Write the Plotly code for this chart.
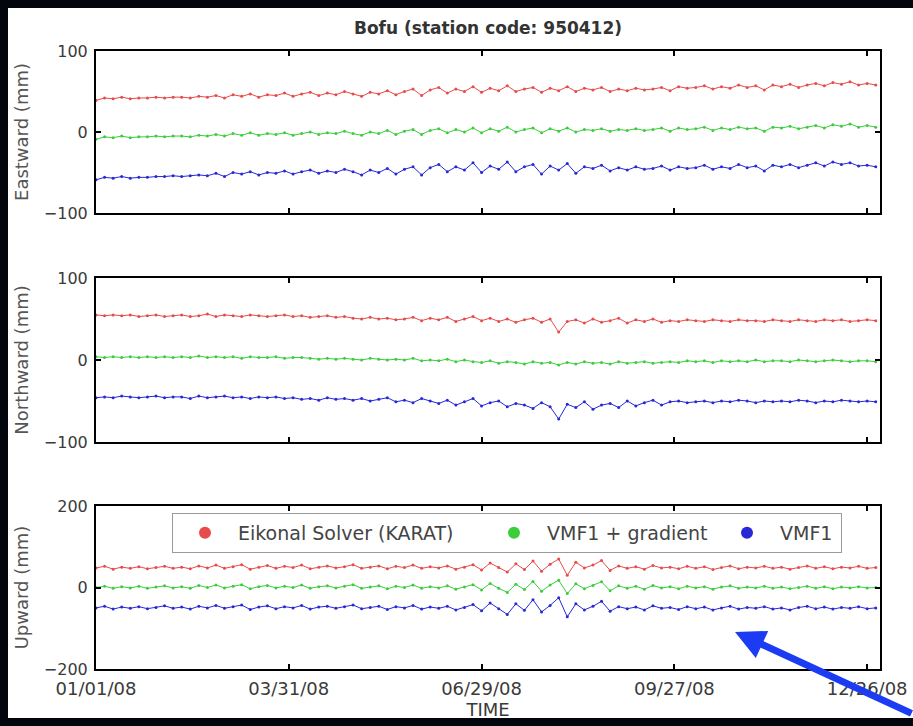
import pandas as pd
import plotly.graph_objects as go

# ---------------- data (sampled every 4 days) ----------------
dates = pd.date_range("2008-01-01", periods=92, freq="4D")

east_karat = [39, 42, 41, 43, 41, 42, 42, 43, 42, 43,
              43, 42, 44, 43, 45, 42, 46, 44, 47, 43,
              46, 45, 48, 44, 47, 49, 45, 48, 46, 50,
              47, 44, 49, 47, 51, 46, 50, 53, 45, 52,
              55, 48, 53, 50, 56, 49, 54, 51, 57, 50,
              53, 55, 49, 54, 51, 56, 50, 54, 52, 55,
              50, 53, 51, 54, 52, 53, 55, 51, 56, 54,
              55, 57, 53, 56, 54, 58, 55, 57, 52, 58,
              56, 59, 55, 58, 60, 57, 61, 59, 62, 58,
              60, 58]
east_grad = [-9, -6, -7, -5, -7, -6, -6, -5, -6, -5,
             -5, -6, -4, -5, -3, -5, -2, -4, -1, -4,
             -2, -3, -1, -4, -2, 0, -3, -1, -2, 1,
             -2, -4, 0, -2, 2, -3, 1, 3, -3, 2,
             4, -1, 3, 0, 5, -1, 4, 1, 6, 0,
             3, 5, -1, 4, 1, 5, 0, 3, 2, 4,
             1, 3, 2, 4, 2, 3, 5, 1, 5, 3,
             4, 6, 2, 5, 3, 6, 4, 5, 1, 6,
             5, 7, 4, 6, 8, 5, 9, 7, 10, 6,
             8, 6]
east_vmf1 = [-59, -56, -57, -55, -57, -56, -56, -55, -55, -54,
             -55, -54, -53, -54, -51, -55, -50, -52, -49, -53,
             -50, -51, -48, -52, -49, -47, -51, -48, -50, -46,
             -49, -53, -47, -50, -45, -52, -46, -43, -53, -44,
             -40, -49, -43, -47, -38, -50, -42, -46, -37, -49,
             -43, -40, -52, -42, -47, -39, -51, -43, -45, -41,
             -48, -44, -47, -43, -46, -45, -42, -47, -43, -45,
             -44, -41, -46, -43, -45, -40, -44, -42, -48, -41,
             -43, -40, -44, -41, -38, -42, -37, -40, -38, -42,
             -41, -43]

north_karat = [55, 54, 55, 54, 55, 53, 54, 55, 53, 54,
               55, 53, 54, 56, 53, 55, 54, 53, 55, 54,
               53, 54, 55, 53, 54, 52, 53, 54, 52, 53,
               51, 50, 52, 50, 51, 49, 50, 52, 48, 51,
               49, 52, 47, 50, 53, 48, 51, 47, 50, 46,
               49, 51, 46, 50, 34, 47, 49, 45, 50, 46,
               48, 51, 45, 49, 47, 50, 46, 48, 47, 49,
               48, 47, 49, 48, 47, 49, 48, 48, 47, 49,
               48, 47, 49, 48, 47, 49, 48, 49, 47, 48,
               49, 48]
north_grad = [4, 3, 4, 3, 4, 3, 4, 3, 4, 3,
              4, 3, 5, 3, 4, 3, 4, 2, 4, 3,
              3, 4, 2, 3, 3, 2, 1, 2, 1, 2,
              1, 0, 2, 1, 0, 1, 0, 2, -1, 0,
              -1, 1, -2, 0, -2, -3, -1, -4, -2, -3,
              -5, -2, -4, -3, -6, -3, -5, -2, -4, -3,
              -5, -2, -4, -3, -2, -4, -3, -2, -3, -1,
              -2, -1, -3, -1, -2, -1, -2, 0, -2, -1,
              -1, -2, 0, -1, -2, -1, 0, -1, -2, -1,
              -1, -2]
north_vmf1 = [-46, -45, -46, -44, -45, -46, -45, -44, -46, -45,
              -45, -47, -44, -46, -45, -44, -46, -45, -47, -45,
              -46, -45, -47, -46, -48, -47, -49, -46, -48, -47,
              -49, -47, -50, -48, -46, -51, -49, -52, -47, -50,
              -53, -49, -55, -51, -47, -56, -52, -50, -57, -53,
              -55, -59, -52, -57, -72, -54, -58, -51, -60, -55,
              -53, -58, -50, -56, -52, -49, -55, -51, -50, -52,
              -51, -50, -52, -50, -51, -49, -50, -52, -50, -51,
              -50, -51, -49, -50, -52, -50, -51, -49, -50, -51,
              -50, -51]

up_karat = [48, 52, 45, 50, 47, 51, 46, 49, 52, 47,
            50, 46, 53, 48, 55, 47, 51, 56, 45, 50,
            54, 47, 52, 49, 55, 46, 50, 53, 48, 51,
            56, 47, 50, 53, 46, 52, 49, 55, 47, 51,
            48, 53, 45, 50, 56, 43, 60, 49, 38, 58,
            44, 65, 40, 57, 70, 30, 62, 48, 55, 66,
            42, 53, 47, 51, 45, 54, 48, 50, 46, 52,
            47, 51, 44, 49, 53, 46, 50, 48, 52, 47,
            50, 45, 49, 53, 47, 51, 46, 50, 48, 52,
            47, 49]
up_grad = [0, 3, -2, 2, -1, 3, -2, 1, 4, -1,
           2, -2, 5, 0, 6, -1, 3, 7, -3, 2,
           5, -1, 3, 0, 6, -2, 2, 4, -1, 3,
           7, -2, 1, 4, -3, 3, 0, 6, -2, 2,
           -1, 4, -4, 1, 7, -6, 10, -2, -12, 8,
           -5, 15, -9, 6, 18, -15, 9, -3, 5, 14,
           -8, 4, -2, 3, -4, 5, -1, 2, -3, 3,
           -1, 2, -4, 1, 4, -2, 1, -1, 3, -2,
           1, -3, 0, 3, -2, 2, -3, 1, -1, 2,
           -1, 0]
up_vmf1 = [-50, -46, -53, -48, -51, -47, -52, -49, -45, -51,
           -48, -53, -46, -50, -44, -51, -47, -43, -54, -48,
           -45, -52, -47, -50, -44, -53, -48, -46, -51, -47,
           -43, -52, -49, -46, -54, -47, -50, -44, -53, -48,
           -51, -46, -55, -49, -42, -57, -38, -52, -66, -40,
           -56, -30, -60, -44, -25, -72, -40, -55, -46, -34,
           -58, -47, -52, -48, -55, -45, -51, -49, -54, -47,
           -52, -48, -55, -50, -46, -53, -49, -51, -47, -53,
           -50, -55, -49, -46, -52, -48, -53, -49, -51, -47,
           -52, -50]

series_names = ["Eikonal Solver (KARAT)", "VMF1 + gradient", "VMF1"]
panel_titles = ["Eastward (mm)", "Northward (mm)", "Upward (mm)"]
panel_data = [
    [east_karat, east_grad, east_vmf1],
    [north_karat, north_grad, north_vmf1],
    [up_karat, up_grad, up_vmf1],
]
panel_ranges = [[-100, 100], [-100, 100], [-200, 200]]
panel_ticks = [[-100, 0, 100], [-100, 0, 100], [-200, 0, 200]]
xtick_vals = ["2008-01-01", "2008-03-31", "2008-06-29", "2008-09-27", "2008-12-26"]
xtick_text = ["01/01/08", "03/31/08", "06/29/08", "09/27/08", "12/26/08"]
title_text = "Bofu (station code: 950412)"

# ---------------- styling ----------------
W, H = 913, 726
colors = ["rgb(232,75,75)", "rgb(60,205,60)", "rgb(40,40,215)"]
legend_widths = [238, 162, 56]
FONT = "DejaVu Sans"

def px_x(p):
    return p / W

def px_y(p):
    return 1 - p / H

x_dom = [px_x(96), px_x(880)]
y_doms = [[px_y(213), px_y(51)], [px_y(442), px_y(278)], [px_y(669), px_y(506)]]

fig = go.Figure()
for pi in range(3):
    xa = "x" if pi == 0 else f"x{pi + 1}"
    ya = "y" if pi == 0 else f"y{pi + 1}"
    for si in range(3):
        vals = panel_data[pi][si]
        fig.add_trace(go.Scatter(
            x=dates, y=vals, mode="lines", xaxis=xa, yaxis=ya,
            line=dict(color=colors[si], width=1),
            showlegend=False, hoverinfo="skip", legendgroup=series_names[si],
        ))
        fig.add_trace(go.Scatter(
            x=dates, y=vals, mode="markers", xaxis=xa, yaxis=ya,
            marker=dict(color=colors[si], size=3),
            name=series_names[si], legendgroup=series_names[si],
            showlegend=(pi == 2), legendwidth=legend_widths[si],
        ))

axis_common = dict(
    showline=True, linecolor="black", linewidth=2, mirror="allticks",
    ticks="inside", ticklen=5, tickwidth=2, tickcolor="black",
    showgrid=False, zeroline=False, automargin=True,
)

layout = dict(
    template="none",
    width=W, height=H, margin=dict(l=0, r=0, t=0, b=0, autoexpand=False),
    paper_bgcolor="#04060e", plot_bgcolor="white",
    font=dict(family=FONT, color="#333333"),
    showlegend=True,
    legend=dict(
        orientation="h", x=px_x(172), y=px_y(513), xanchor="left", yanchor="top",
        bgcolor="white", bordercolor="#9a9a9a", borderwidth=1,
        font=dict(family=FONT, size=19, color="#444444"),
        itemsizing="constant", itemwidth=56, tracegroupgap=0,
    ),
    title=dict(
        text="<b>" + title_text + "</b>", x=px_x(488), y=px_y(28),
        xanchor="center", yanchor="middle",
        font=dict(family=FONT, size=17, color="#333333"),
    ),
    shapes=[dict(type="rect", xref="paper", yref="paper",
                 x0=px_x(8), x1=1.0, y0=px_y(718), y1=px_y(8),
                 fillcolor="white", line=dict(width=0), layer="below")],
    annotations=[dict(
        x=px_x(735), y=px_y(632), xref="paper", yref="paper",
        ax=180, ay=82, showarrow=True, arrowhead=2, arrowsize=0.85,
        arrowwidth=7, arrowcolor="#1b3cf2", text="",
    )],
)

for pi in range(3):
    xkey = "xaxis" if pi == 0 else f"xaxis{pi + 1}"
    ykey = "yaxis" if pi == 0 else f"yaxis{pi + 1}"
    xa = dict(axis_common, domain=x_dom, range=["2008-01-01", "2009-01-01"],
              tickvals=xtick_vals, anchor="y" if pi == 0 else f"y{pi + 1}")
    if pi == 2:
        xa.update(ticktext=xtick_text, showticklabels=True,
                  tickfont=dict(family=FONT, size=18, color="#3a3a3a"),
                  ticklabelstandoff=2,
                  title=dict(text="TIME", standoff=1,
                             font=dict(family=FONT, size=18, color="#3a3a3a")))
    else:
        xa.update(showticklabels=False)
    ya = dict(axis_common, domain=y_doms[pi], range=panel_ranges[pi],
              tickvals=panel_ticks[pi], anchor="x" if pi == 0 else f"x{pi + 1}",
              tickfont=dict(family=FONT, size=16, color="#3a3a3a"),
              ticklabelstandoff=3,
              title=dict(text=panel_titles[pi], standoff=11,
                         font=dict(family=FONT, size=18, color="#555555")))
    layout[xkey] = xa
    layout[ykey] = ya

fig.update_layout(**layout)
fig.write_html("out.html")
